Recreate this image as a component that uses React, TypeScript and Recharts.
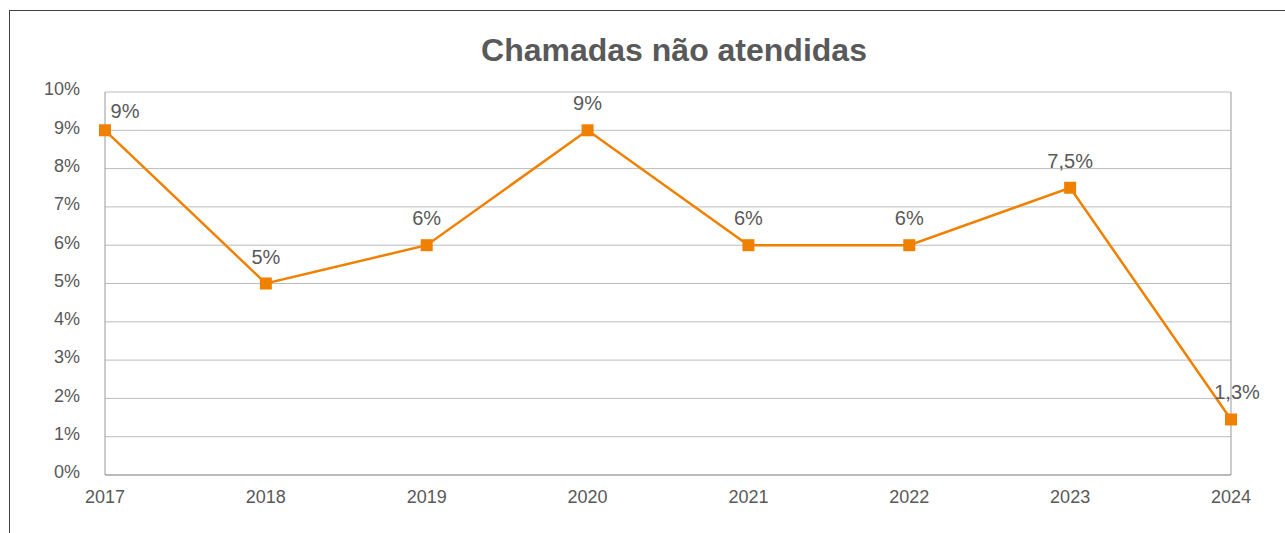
import { LineChart, Line, XAxis, YAxis, CartesianGrid, LabelList } from 'recharts';

const years = ['2017', '2018', '2019', '2020', '2021', '2022', '2023', '2024'];
const unanswered = [9, 5, 6, 9, 6, 6, 7.5, 1.45];
const valueLabels = ['9%', '5%', '6%', '9%', '6%', '6%', '7,5%', '1,3%'];
const yTicks = [0, 1, 2, 3, 4, 5, 6, 7, 8, 9, 10];

const data = years.map((year, i) => ({
  year,
  value: unanswered[i],
  label: valueLabels[i],
}));

const ORANGE = '#F08000';
const TEXT = '#595959';
const FONT = '"Liberation Sans", Arial, sans-serif';

function SquareDot(props: any) {
  const { cx, cy } = props;
  if (cx == null || cy == null) return null;
  return <rect x={cx - 6} y={cy - 6} width={12} height={12} fill={ORANGE} />;
}

function ValueLabel(props: any) {
  const { x, y, index } = props;
  let dx = 0;
  let dy = -20;
  // first label sits to the right of the point, last one nudged right
  if (index === 0) {
    dx = 20;
    dy = -12;
  } else if (index === years.length - 1) {
    dx = 6;
  }
  return (
    <text
      x={x + dx}
      y={y + dy}
      textAnchor="middle"
      fill={TEXT}
      fontSize={20}
      fontFamily={FONT}
    >
      {valueLabels[index]}
    </text>
  );
}

export default function App() {
  return (
    <div
      style={{
        position: 'absolute',
        left: 0,
        top: 0,
        width: 1285,
        height: 533,
        overflow: 'hidden',
        background: '#fff',
        fontFamily: FONT,
      }}
    >
      <div
        style={{
          position: 'absolute',
          left: 9,
          top: 10,
          width: 1400,
          height: 600,
          border: '1px solid #404040',
        }}
      />
      <div
        style={{
          position: 'absolute',
          left: 0,
          width: 1348,
          top: 30,
          textAlign: 'center',
          fontSize: 32,
          fontWeight: 'bold',
          color: TEXT,
          lineHeight: '40px',
        }}
      >
        Chamadas não atendidas
      </div>
      <div style={{ position: 'absolute', left: 0, top: 0 }}>
        <LineChart
          width={1285}
          height={533}
          data={data}
          margin={{ top: 92, right: 53, left: 0, bottom: 28 }}
        >
          <CartesianGrid yAxisId="left" vertical={false} stroke="#bcbcbc" />
          <XAxis
            dataKey="year"
            height={30}
            axisLine={{ stroke: '#999999' }}
            tickLine={false}
            tickSize={6}
            tickMargin={9}
            interval={0}
            tick={{ fill: TEXT, fontSize: 18, fontFamily: FONT }}
          />
          <YAxis
            yAxisId="left"
            width={105}
            domain={[0, 10]}
            ticks={yTicks}
            tickFormatter={(v) => `${v}%`}
            axisLine={{ stroke: '#999999' }}
            tickLine={false}
            tickSize={6}
            tickMargin={19}
            tick={{ fill: TEXT, fontSize: 18, fontFamily: FONT, dy: -3 }}
          />
          <YAxis
            yAxisId="right"
            orientation="right"
            width={1}
            domain={[0, 10]}
            tick={false}
            tickLine={false}
            axisLine={{ stroke: '#999999' }}
          />
          <Line
            yAxisId="left"
            type="linear"
            dataKey="value"
            stroke={ORANGE}
            strokeWidth={2.5}
            dot={<SquareDot />}
            activeDot={false}
            isAnimationActive={false}
          >
            <LabelList dataKey="label" content={<ValueLabel />} />
          </Line>
        </LineChart>
      </div>
    </div>
  );
}
